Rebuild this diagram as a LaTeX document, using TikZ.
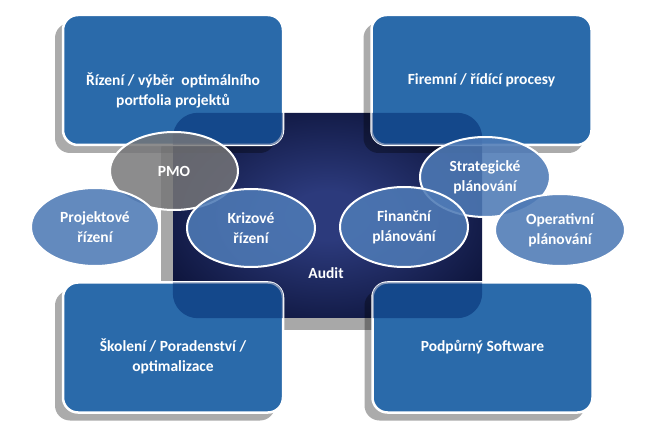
\documentclass[tikz,border=0pt]{standalone}
\usepackage{fontspec}
\setmainfont{Carlito}
\usetikzlibrary{shapes.geometric,shadows}

\definecolor{boxblue}{RGB}{42,106,170}
\definecolor{navymid}{RGB}{44,58,124}
\definecolor{navyedge}{RGB}{3,8,38}
\definecolor{ovalblue}{RGB}{78,122,182}
\definecolor{ovalgray}{RGB}{118,118,120}
\definecolor{veilblue}{RGB}{0,40,110}
\definecolor{shadowgray}{RGB}{168,168,168}

\pgfdeclareradialshading{navyglow}{\pgfpoint{0bp}{0bp}}{color(0bp)=(navymid); color(6bp)=(navymid); color(38bp)=(navyedge); color(72bp)=(navyedge)}

\tikzset{
	bigbox/.style={rectangle, rounded corners=15pt, minimum width=220pt, minimum height=130pt, fill=boxblue, draw=white, line width=2.5pt, drop shadow={shadow xshift=-8pt, shadow yshift=-8pt, fill=black, opacity=0.33}},
	corebox/.style={rectangle, rounded corners=25pt, minimum width=309pt, minimum height=205pt, shade, shading=navyglow, drop shadow={shadow xshift=-12pt, shadow yshift=-12pt, fill=shadowgray, opacity=1}},
	boxtext/.style={text=white, font=\fontsize{15.5}{20}\selectfont\bfseries, align=center},
	oval/.style={ellipse, minimum width=128pt, minimum height=78pt, inner sep=0pt, draw=white, line width=2pt, fill=ovalblue, fill opacity=0.88, text opacity=1, boxtext},
	graoval/.style={oval, fill=ovalgray, fill opacity=0.84}
}

\begin{document}
\begin{tikzpicture}[x=1pt, y=-1pt]
	%%%%% START %%%%%
	
	\fill[white] (0, 0) rectangle (656, 438);
	\useasboundingbox (0, 0) rectangle (656, 438);
	
	\node[corebox] (core) at (327.5, 215.5) {};
	
	\node[bigbox] (portfolio) at (173, 80) {};
	\node[bigbox] (processes) at (481.5, 80) {};
	\node[bigbox] (training) at (173, 347.5) {};
	\node[bigbox] (software) at (482.5, 347.5) {};
	
	\foreach \b in {portfolio, processes, training, software} {
		\begin{scope}
			\clip[rounded corners=13.5pt] ([shift={(1.25, 1.25)}]\b.north west) rectangle ([shift={(-1.25, -1.25)}]\b.south east);
			\fill[veilblue, opacity=0.5, rounded corners=25pt] (core.north west) rectangle (core.south east);
		\end{scope}
	}
	
	\node[boxtext] (portfoliotext) at ([shift={(0, 10)}]portfolio.center) {Řízení / výběr~ optimálního\\portfolia projektů};
	\node[boxtext] (processestext) at (processes.center) {Firemní / řídící procesy};
	\node[boxtext] (trainingtext) at ([shift={(0, 9)}]training.center) {Školení / Poradenství /\\optimalizace};
	\node[boxtext] (softwaretext) at (software.center) {Podpůrný Software};
	\node[boxtext] (audit) at (326, 273) {Audit};
	
	\node[graoval] (pmo) at (174, 171) {PMO};
	\node[oval] (projekt) at (95, 227) {Projektové\\řízení};
	\node[oval] (krize) at (251, 228) {Krizové\\řízení};
	
	\node[oval, minimum width=130pt, minimum height=80pt] (strategie) at (485, 177) {Strategické\\plánování};
	\node[oval, minimum height=80pt] (finance) at (404, 227) {Finanční\\plánování};
	\node[oval, minimum width=130pt, minimum height=72pt] (provoz) at (560, 230) {Operativní\\plánování};
	
	%%%%% END %%%%%
\end{tikzpicture}
\end{document}
